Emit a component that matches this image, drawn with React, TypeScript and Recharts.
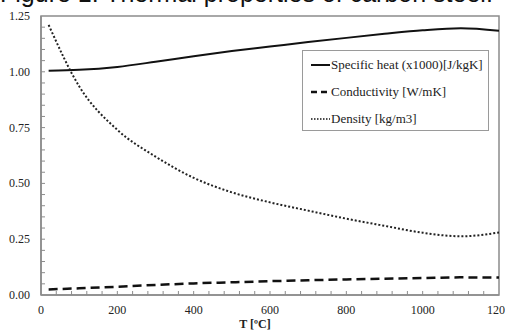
import React from 'react';
import { LineChart, Line, XAxis, YAxis, ReferenceArea } from 'recharts';

// temperature points [ºC]
const temps = [20, 100, 200, 300, 400, 500, 600, 700, 800, 900, 1000, 1100, 1200];
// specific heat (x1000) [J/kgK]
const specificHeat = [1.005, 1.009, 1.022, 1.045, 1.07, 1.093, 1.113, 1.133, 1.152, 1.17, 1.186, 1.195, 1.184];
// conductivity (scaled) [W/mK]
const conductivity = [0.025, 0.03, 0.037, 0.045, 0.052, 0.057, 0.062, 0.066, 0.07, 0.073, 0.076, 0.079, 0.078];
// density (scaled) [kg/m3]
const density = [1.21, 0.935, 0.74, 0.62, 0.525, 0.46, 0.415, 0.378, 0.342, 0.31, 0.279, 0.263, 0.28];

const xTicks = [0, 40, 80, 120, 160, 200, 240, 280, 320, 360, 400, 440, 480, 520, 560, 600, 640, 680, 720, 760, 800, 840, 880, 920, 960, 1000, 1040, 1080, 1120, 1160, 1200];
const yTicks = [0, 0.05, 0.1, 0.15, 0.2, 0.25, 0.3, 0.35, 0.4, 0.45, 0.5, 0.55, 0.6, 0.65, 0.7, 0.75, 0.8, 0.85, 0.9, 0.95, 1, 1.05, 1.1, 1.15, 1.2, 1.25];

const data = temps.map((t, i) => ({
  t,
  cp: specificHeat[i],
  k: conductivity[i],
  rho: density[i],
}));

const serif = '"Liberation Serif", "Times New Roman", serif';
const axisGray = '#8c8c8c';

const XTick = (props: any) => {
  const { x, y, payload } = props;
  const v = payload.value;
  const major = Math.round(v) % 200 === 0;
  return (
    <g>
      {v > 0 && v < 1200 && <line x1={x} x2={x} y1={y} y2={y - 4} stroke={axisGray} />}
      {major && (
        <text x={x} y={y + 19} textAnchor="middle" fontFamily={serif} fontSize={12} fill="#222">
          {v}
        </text>
      )}
    </g>
  );
};

const YTick = (props: any) => {
  const { x, y, payload } = props;
  const v = payload.value;
  const major = Math.round(v * 100) % 25 === 0;
  return (
    <g>
      {v > 0 && v < 1.25 && <line x1={x} x2={x + 4} y1={y} y2={y} stroke={axisGray} />}
      {major && (
        <text x={x - 11} y={y + 4} textAnchor="end" fontFamily={serif} fontSize={12} fill="#222">
          {v.toFixed(2)}
        </text>
      )}
    </g>
  );
};

const legendItems = [
  { label: 'Specific heat (x1000)[J/kgK]', dash: undefined, width: 2 },
  { label: 'Conductivity [W/mK]', dash: '6 4', width: 2.5 },
  { label: 'Density [kg/m3]', dash: '1.5 1.5', width: 1.5 },
];

const LegendBox = () => (
  <div
    style={{
      position: 'absolute',
      left: 302,
      top: 50,
      width: 187,
      height: 81,
      boxSizing: 'border-box',
      border: '1px solid #9a9a9a',
      background: '#fff',
    }}
  >
    {legendItems.map((it) => (
      <div key={it.label} style={{ display: 'flex', alignItems: 'center', height: 27, paddingLeft: 8 }}>
        <svg width={19} height={6} style={{ marginRight: 1 }}>
          <line x1={0} x2={19} y1={3} y2={3} stroke="#111" strokeWidth={it.width} strokeDasharray={it.dash} />
        </svg>
        <span style={{ fontFamily: serif, fontSize: 13, color: '#222' }}>{it.label}</span>
      </div>
    ))}
  </div>
);

export default function App() {
  return (
    <div style={{ position: 'absolute', left: 0, top: 0, width: 505, height: 335, overflow: 'hidden', background: '#fff' }}>
      <div
        style={{
          position: 'absolute',
          left: 0,
          top: -19,
          fontFamily: '"Liberation Sans", Arial, sans-serif',
          fontSize: 25,
          lineHeight: '25px',
          whiteSpace: 'nowrap',
          color: '#111',
        }}
      >
        Figure 1: Thermal properties of carbon steel.
      </div>
      <LineChart width={505} height={335} data={data} margin={{ top: 16, right: 6, bottom: 0, left: 0 }}>
        <XAxis
          dataKey="t"
          type="number"
          domain={[0, 1200]}
          ticks={xTicks}
          interval={0}
          tick={<XTick />}
          tickLine={false}
          tickSize={0}
          tickMargin={0}
          height={40}
          axisLine={{ stroke: axisGray, strokeWidth: 1.5 }}
          label={{ value: 'T [ºC]', position: 'insideBottom', offset: 7, dx: -15, fontFamily: serif, fontSize: 12, fontWeight: 'bold', fill: '#222' }}
        />
        <YAxis
          type="number"
          domain={[0, 1.25]}
          ticks={yTicks}
          interval={0}
          tick={<YTick />}
          tickLine={false}
          tickSize={0}
          tickMargin={0}
          width={41}
          axisLine={{ stroke: axisGray, strokeWidth: 1.5 }}
        />
        <ReferenceArea x1={0} x2={1200} y1={0} y2={1.25} fill="none" stroke={axisGray} strokeWidth={1.5} fillOpacity={0} />
        <Line type="monotone" dataKey="cp" stroke="#111" strokeWidth={2} dot={false} isAnimationActive={false} />
        <Line type="monotone" dataKey="k" stroke="#111" strokeWidth={2.5} strokeDasharray="9 5" dot={false} isAnimationActive={false} />
        <Line type="monotone" dataKey="rho" stroke="#222" strokeWidth={2} strokeDasharray="2 2" dot={false} isAnimationActive={false} />
      </LineChart>
      <LegendBox />
    </div>
  );
}
